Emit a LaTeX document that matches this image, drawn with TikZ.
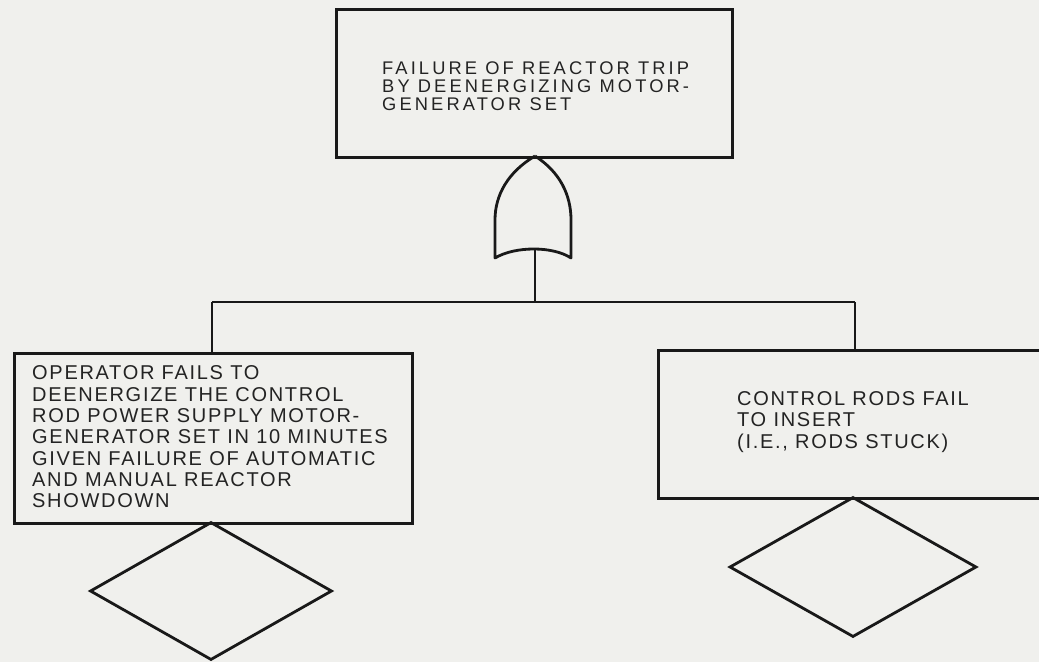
\documentclass[tikz,border=0pt]{standalone}
\usepackage{fontspec}
\setmainfont[LetterSpace=8.5]{Liberation Sans}
\usetikzlibrary{shapes.geometric}
\definecolor{paper}{RGB}{240,240,237}
\definecolor{ink}{RGB}{25,25,25}
\definecolor{txt}{RGB}{35,35,35}
\tikzset{
  line/.style={draw=ink, line width=2.8pt},
  eventbox/.style={line, rectangle, inner sep=0pt, anchor=north west},
  undev/.style={line, diamond, inner sep=0pt, minimum width=242pt, minimum height=138pt},
  label/.style={inner sep=0pt, anchor=west, align=left, text=txt,
    font=\fontsize{20}{21.3}\selectfont},
  toplabel/.style={label, font=\fontsize{18.3}{18}\selectfont\addfontfeature{LetterSpace=17}},
}
\begin{document}
\begin{tikzpicture}[x=1pt, y=-1pt]
\useasboundingbox[fill=paper] (0,0) rectangle (1039,662);
\clip (0,0) rectangle (1039,662);
% top event
\node[eventbox, minimum width=396pt, minimum height=148pt] (top) at (335,8) {};
\node[toplabel] (topT) at (382,86) {FAILURE OF REACTOR TRIP\\BY DEENERGIZING MOTOR-\\GENERATOR SET};
% OR gate
\coordinate (apex) at (535,156);
\coordinate (gbot) at (535,250);
\draw[line, line join=round] (apex) .. controls (508,172) and (495,195) .. (495,220) -- (495,258)
   .. controls (515,246) and (553,246) .. (571,258) -- (571,220)
   .. controls (571,195) and (560,172) .. (apex);
\coordinate (busL) at (212,302);
\coordinate (busR) at (855,302);
\coordinate (busC) at (535,302);
\draw[line] (gbot) -- (busC);
\draw[line] (busL) -- (busR);
% left event
\node[eventbox, minimum width=398pt, minimum height=170pt] (left) at (13,352) {};
\node[label] (leftT) at (32,437) {OPERATOR FAILS TO\\DEENERGIZE THE CONTROL\\ROD POWER SUPPLY MOTOR-\\GENERATOR SET IN 10 MINUTES\\GIVEN FAILURE OF AUTOMATIC\\AND MANUAL REACTOR\\SHOWDOWN};
% right event
\node[eventbox, minimum width=420pt, minimum height=148pt] (right) at (657,349) {};
\node[label] (rightT) at (737,422) {CONTROL RODS FAIL\\TO INSERT\\(I.E., RODS STUCK)};
\draw[line] (busL) -- (busL |- left.north);
\draw[line] (busR) -- (busR |- right.north);
% undeveloped events
\node[undev] (dl) at (211,591) {};
\node[undev, minimum width=247pt, minimum height=140pt] (dr) at (853,567) {};
\end{tikzpicture}
\end{document}
